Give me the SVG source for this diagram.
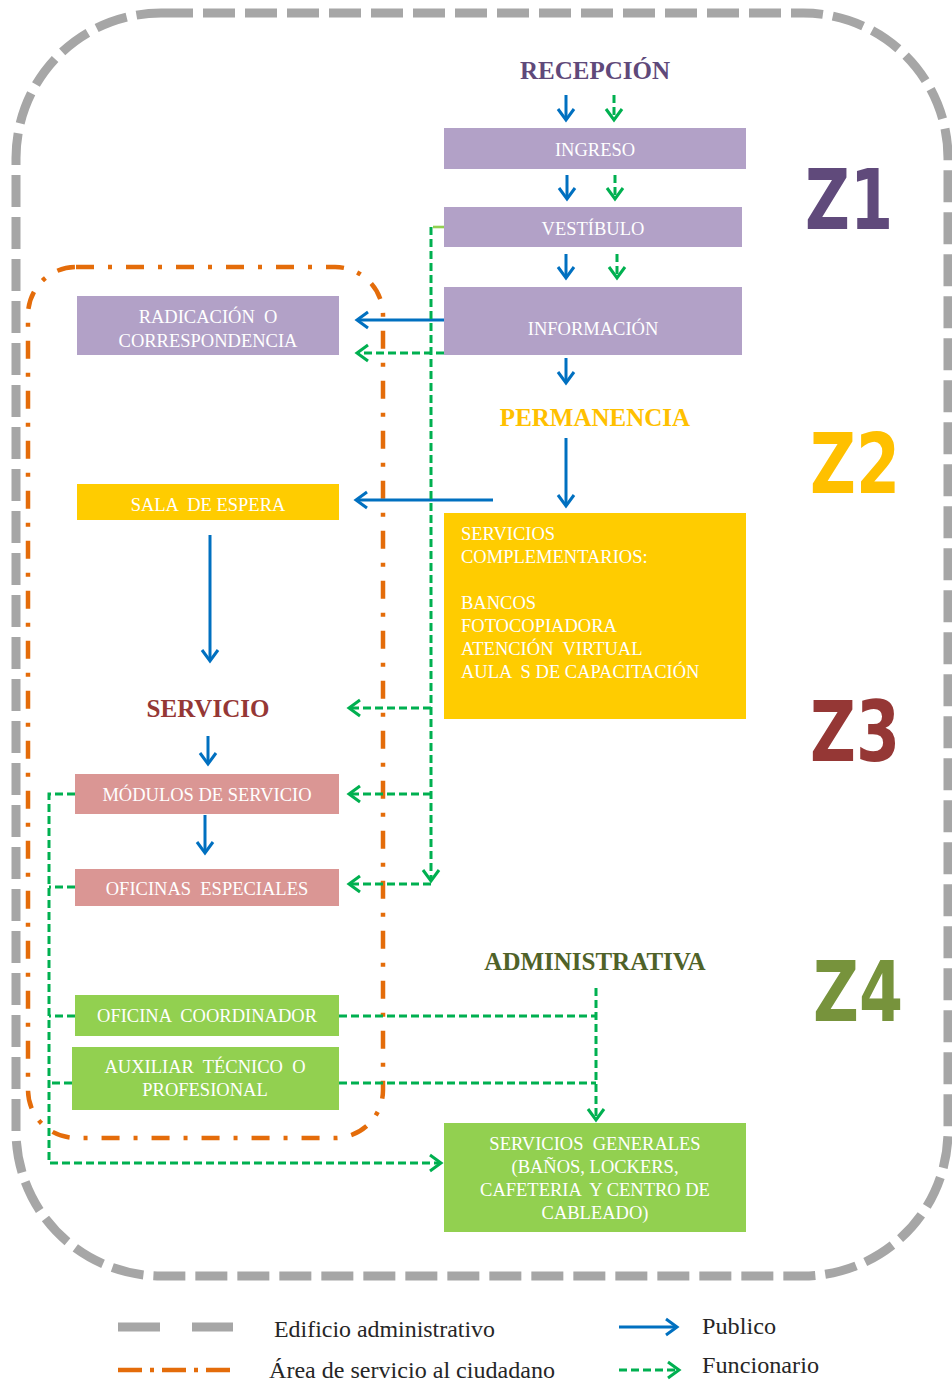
<svg xmlns="http://www.w3.org/2000/svg" width="952" height="1382" viewBox="0 0 952 1382">
<style>
.box-t{font-family:"Liberation Serif","Times New Roman",serif;font-size:18.5px;fill:#ffffff;text-anchor:middle;white-space:pre}
.box-l{font-family:"Liberation Serif","Times New Roman",serif;font-size:18.5px;fill:#ffffff;white-space:pre}
.head{font-family:"Liberation Serif","Times New Roman",serif;font-size:25px;font-weight:bold;text-anchor:middle}
.zl{font-family:"DejaVu Sans","Verdana",sans-serif;font-size:84px;font-weight:bold}
.leg{font-family:"Liberation Serif","Times New Roman",serif;font-size:23px;fill:#262626}
.pb{fill:none;stroke:#0070c0;stroke-width:3}
.pg{fill:none;stroke:#00b050;stroke-width:3;stroke-dasharray:8 4}
.purple{fill:#b2a1c7}
.yellow{fill:#ffcc00}
.pink{fill:#da9694}
.green{fill:#92d050}
</style>
<defs>
<marker id="mb" markerUnits="userSpaceOnUse" markerWidth="24" markerHeight="24" viewBox="-14 -12 24 24" refX="0" refY="0" orient="auto" overflow="visible">
<path d="M-11,-8 L0,0 L-11,8" fill="none" stroke="#0070c0" stroke-width="3"/>
</marker>
<marker id="mg" markerUnits="userSpaceOnUse" markerWidth="24" markerHeight="24" viewBox="-14 -12 24 24" refX="0" refY="0" orient="auto" overflow="visible">
<path d="M-11,-8 L0,0 L-11,8" fill="none" stroke="#00b050" stroke-width="3"/>
</marker>
</defs>
<rect width="952" height="1382" fill="#ffffff"/>

<g id="building">
<rect x="16" y="13" width="932" height="1263" rx="145" ry="145" fill="none" stroke="#a6a6a6" stroke-width="9" stroke-dasharray="32 10"/>
</g>
<g id="service-area">
<rect x="28" y="267" width="355" height="871" rx="48" ry="48" fill="none" stroke="#e46c0a" stroke-width="4.5" stroke-dasharray="18 14 4 14"/>
</g>

<g id="zones">
<text class="zl" x="805" y="229" fill="#604a7b" textLength="88" lengthAdjust="spacingAndGlyphs">Z1</text>
<text class="zl" x="810" y="493" fill="#ffc000" textLength="90" lengthAdjust="spacingAndGlyphs">Z2</text>
<text class="zl" x="810" y="761" fill="#953735" textLength="90" lengthAdjust="spacingAndGlyphs">Z3</text>
<text class="zl" x="813" y="1021" fill="#77933c" textLength="90" lengthAdjust="spacingAndGlyphs">Z4</text>
</g>

<g id="connectors">
<path class="pb" d="M566,95 V120" marker-end="url(#mb)"/>
<path class="pb" d="M567,175 V199" marker-end="url(#mb)"/>
<path class="pb" d="M566,254 V278" marker-end="url(#mb)"/>
<path class="pb" d="M566,358 V383" marker-end="url(#mb)"/>
<path class="pb" d="M566,438 V506" marker-end="url(#mb)"/>
<path class="pb" d="M444,320 H357" marker-end="url(#mb)"/>
<path class="pb" d="M493,500 H356" marker-end="url(#mb)"/>
<path class="pb" d="M210,535 V661" marker-end="url(#mb)"/>
<path class="pb" d="M208,736 V764" marker-end="url(#mb)"/>
<path class="pb" d="M205,815 V853" marker-end="url(#mb)"/>

<path class="pg" d="M614,95 V120" marker-end="url(#mg)"/>
<path class="pg" d="M615,175 V199" marker-end="url(#mg)"/>
<path class="pg" d="M617,254 V278" marker-end="url(#mg)"/>
<path class="pg" d="M444,353 H357" marker-end="url(#mg)"/>
<path d="M444,227 H433" fill="none" stroke="#92d050" stroke-width="2.6"/>
<path class="pg" d="M431,227 V881" marker-end="url(#mg)"/>
<path class="pg" d="M431,884 H349" marker-end="url(#mg)"/>
<path class="pg" d="M431,708 H349" marker-end="url(#mg)"/>
<path class="pg" d="M431,794 H349" marker-end="url(#mg)"/>
<path class="pg" d="M75,794 H49 V1163 H441" marker-end="url(#mg)"/>
<path class="pg" d="M75,887 H49"/>
<path class="pg" d="M75,1016 H49"/>
<path class="pg" d="M72,1083 H49"/>
<path class="pg" d="M339,1016 H596"/>
<path class="pg" d="M339,1083 H596"/>
<path class="pg" d="M596,988 V1120" marker-end="url(#mg)"/>
</g>

<g id="recepcion">
<text class="head" x="595" y="79" fill="#5f497a">RECEPCIÓN</text>
</g>
<g id="ingreso">
<rect class="purple" x="444" y="128" width="302" height="41"/>
<text class="box-t" x="595" y="156">INGRESO</text>
</g>
<g id="vestibulo">
<rect class="purple" x="444" y="207" width="298" height="40"/>
<text class="box-t" x="593" y="235">VESTÍBULO</text>
</g>
<g id="informacion">
<rect class="purple" x="444" y="287" width="298" height="68"/>
<text class="box-t" x="593" y="335">INFORMACIÓN</text>
</g>
<g id="radicacion">
<rect class="purple" x="77" y="296" width="262" height="59"/>
<text class="box-t" x="208" y="323">RADICACIÓN  O</text>
<text class="box-t" x="208" y="347">CORRESPONDENCIA</text>
</g>

<g id="permanencia">
<text class="head" x="595" y="426" fill="#ffc000">PERMANENCIA</text>
</g>
<g id="sala-espera">
<rect class="yellow" x="77" y="484" width="262" height="36"/>
<text class="box-t" x="208" y="511">SALA  DE ESPERA</text>
</g>
<g id="servicios-complementarios">
<rect class="yellow" x="444" y="513" width="302" height="206"/>
<text class="box-l" x="461" y="540">SERVICIOS</text>
<text class="box-l" x="461" y="563">COMPLEMENTARIOS:</text>
<text class="box-l" x="461" y="609">BANCOS</text>
<text class="box-l" x="461" y="632">FOTOCOPIADORA</text>
<text class="box-l" x="461" y="655">ATENCIÓN  VIRTUAL</text>
<text class="box-l" x="461" y="678">AULA  S DE CAPACITACIÓN</text>
</g>

<g id="servicio">
<text class="head" x="208" y="717" fill="#953735">SERVICIO</text>
</g>
<g id="modulos">
<rect class="pink" x="75" y="774" width="264" height="40"/>
<text class="box-t" x="207" y="801">MÓDULOS DE SERVICIO</text>
</g>
<g id="oficinas-especiales">
<rect class="pink" x="75" y="869" width="264" height="37"/>
<text class="box-t" x="207" y="895">OFICINAS  ESPECIALES</text>
</g>

<g id="administrativa">
<text class="head" x="595" y="970" fill="#4f6228">ADMINISTRATIVA</text>
</g>
<g id="oficina-coordinador">
<rect class="green" x="75" y="995" width="264" height="41"/>
<text class="box-t" x="207" y="1022">OFICINA  COORDINADOR</text>
</g>
<g id="auxiliar">
<rect class="green" x="72" y="1047" width="267" height="63"/>
<text class="box-t" x="205" y="1073">AUXILIAR  TÉCNICO  O</text>
<text class="box-t" x="205" y="1096">PROFESIONAL</text>
</g>
<g id="servicios-generales">
<rect class="green" x="444" y="1123" width="302" height="109"/>
<text class="box-t" x="595" y="1150">SERVICIOS  GENERALES</text>
<text class="box-t" x="595" y="1173">(BAÑOS, LOCKERS,</text>
<text class="box-t" x="595" y="1196">CAFETERIA  Y CENTRO DE</text>
<text class="box-t" x="595" y="1219">CABLEADO)</text>
</g>

<g id="legend">
<path d="M118,1327 H160 M192,1327 H233" stroke="#a6a6a6" stroke-width="9" fill="none"/>
<text class="leg" x="274" y="1337" textLength="221" lengthAdjust="spacingAndGlyphs">Edificio administrativo</text>
<path d="M118,1370 H237" stroke="#e46c0a" stroke-width="4.5" fill="none" stroke-dasharray="24 8 4 8"/>
<text class="leg" x="269" y="1378" textLength="286" lengthAdjust="spacingAndGlyphs">Área de servicio al ciudadano</text>
<path class="pb" d="M619,1327 H677" marker-end="url(#mb)"/>
<text class="leg" x="702" y="1334" textLength="74" lengthAdjust="spacingAndGlyphs">Publico</text>
<path class="pg" d="M619,1370 H679" marker-end="url(#mg)"/>
<text class="leg" x="702" y="1373" textLength="117" lengthAdjust="spacingAndGlyphs">Funcionario</text>
</g>
</svg>
